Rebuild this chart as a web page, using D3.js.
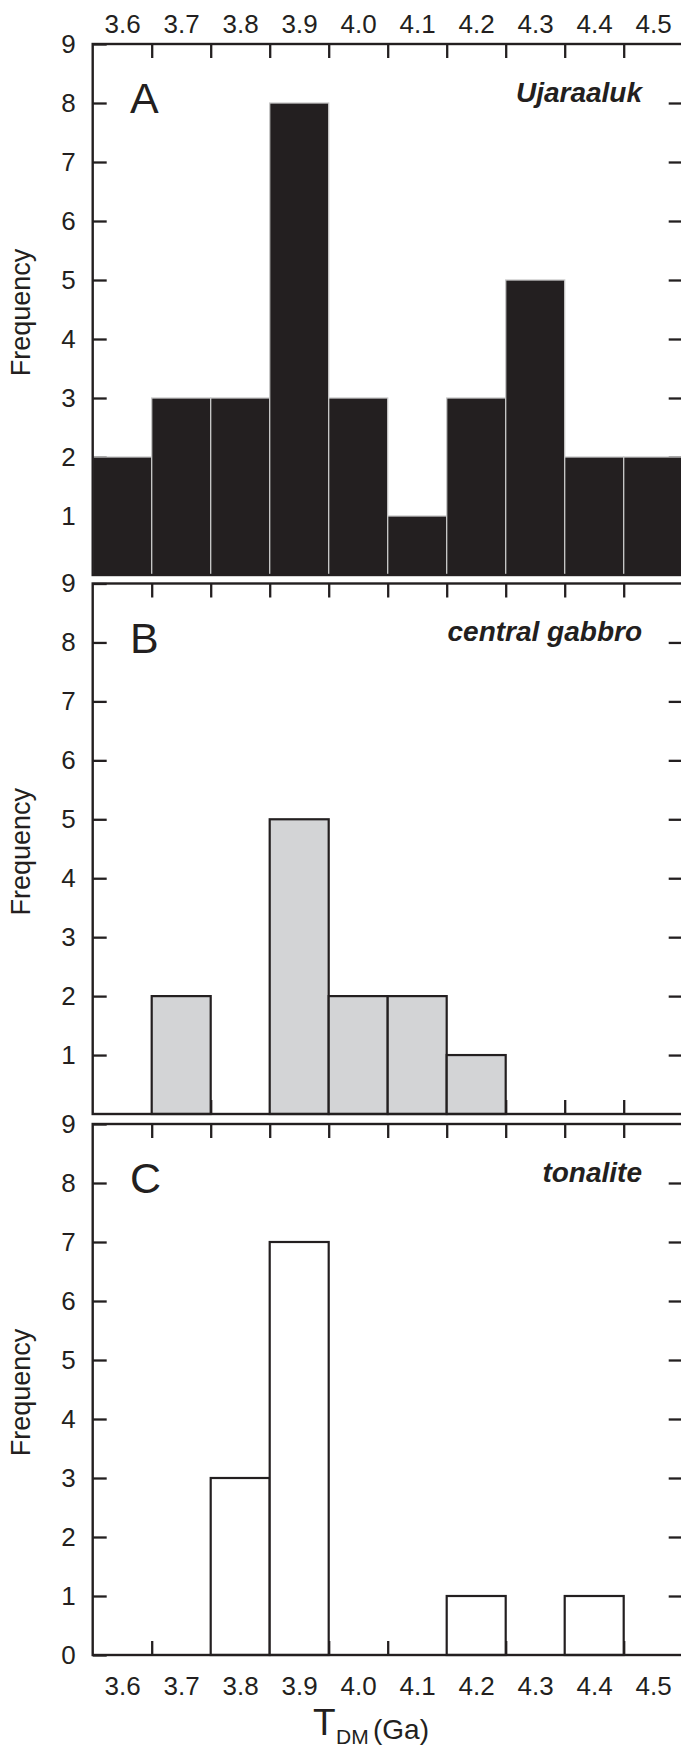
<!DOCTYPE html>
<html>
<head>
<meta charset="utf-8">
<script src="https://cdn.jsdelivr.net/npm/d3@7"></script>
<style>
  html, body { margin: 0; padding: 0; background: #fff; }
  svg { display: block; }
  text { font-family: "Liberation Sans", Arial, Helvetica, sans-serif; fill: #231f20; }
</style>
</head>
<body>
<svg id="chart" width="681" height="1747"></svg>
<script>
// ---------- data ----------
const binCenters = [3.6, 3.7, 3.8, 3.9, 4.0, 4.1, 4.2, 4.3, 4.4, 4.5];
const tickLabels = ["3.6", "3.7", "3.8", "3.9", "4.0", "4.1", "4.2", "4.3", "4.4", "4.5"];
const binEdges = [3.65, 3.75, 3.85, 3.95, 4.05, 4.15, 4.25, 4.35, 4.45];
const ujaraaluk = [2, 3, 3, 8, 3, 1, 3, 5, 2, 2];
const centralGabbro = [0, 2, 0, 5, 2, 2, 1, 0, 0, 0];
const tonalite = [0, 0, 3, 7, 0, 0, 1, 0, 1, 0];
const panelLetters = ["A", "B", "C"];
const panelNames = ["Ujaraaluk", "central gabbro", "tonalite"];
const yTicksAB = [1, 2, 3, 4, 5, 6, 7, 8, 9];
const yTicksC = [0, 1, 2, 3, 4, 5, 6, 7, 8, 9];

// ---------- layout ----------
const ink = "#231f20";
const binW = 0.1;
const x = d3.scaleLinear().domain([3.55, 4.55]).range([92.7, 682.7]);
const panels = [
  { top: 44, bottom: 575, values: ujaraaluk, fill: "#231f20", stroke: "#c8c8c8", sw: 1.3, yTicks: yTicksAB },
  { top: 583.5, bottom: 1114, values: centralGabbro, fill: "#d3d4d6", stroke: ink, sw: 2.2, yTicks: yTicksAB },
  { top: 1124, bottom: 1655, values: tonalite, fill: "#ffffff", stroke: ink, sw: 2.2, yTicks: yTicksC }
];

const svg = d3.select("#chart");
const tickLen = 14;

panels.forEach((p, i) => {
  const y = d3.scaleLinear().domain([0, 9]).range([p.bottom, p.top]);
  const g = svg.append("g");

  // axes (ticks) drawn first so that bars cover them
  const left = g.append("g").attr("transform", `translate(${x.range()[0]},0)`)
    .call(d3.axisLeft(y).tickValues(p.yTicks).tickFormat(d3.format("d"))
      .tickSizeInner(-tickLen).tickSizeOuter(0).tickPadding(17));
  const right = g.append("g").attr("transform", `translate(${x.range()[1]},0)`)
    .call(d3.axisRight(y).tickValues(yTicksC.filter(v => v > 0 && v < 9)).tickFormat("")
      .tickSizeInner(-tickLen).tickSizeOuter(0));
  const top = g.append("g").attr("transform", `translate(0,${p.top})`)
    .call(d3.axisTop(x).tickValues(binEdges).tickFormat("")
      .tickSizeInner(-tickLen).tickSizeOuter(0));
  const bottom = g.append("g").attr("transform", `translate(0,${p.bottom})`)
    .call(d3.axisBottom(x).tickValues(binEdges).tickFormat("")
      .tickSizeInner(-tickLen).tickSizeOuter(0));

  [left, right, top, bottom].forEach(a => {
    a.selectAll(".domain").remove();
    a.selectAll("line").attr("stroke", ink).attr("stroke-width", 2.3);
    a.selectAll("text").style("font-size", "26px").attr("fill", ink)
      .style("font-family", '"Liberation Sans", Arial, sans-serif');
  });

  // bars
  const data = binCenters.map((c, k) => ({ c, v: p.values[k] })).filter(d => d.v > 0);
  g.append("g").selectAll("rect").data(data).join("rect")
    .attr("x", d => x(d.c - binW / 2))
    .attr("width", d => x(d.c + binW / 2) - x(d.c - binW / 2))
    .attr("y", d => y(d.v))
    .attr("height", d => y(0) - y(d.v))
    .attr("fill", p.fill)
    .attr("stroke", p.stroke)
    .attr("stroke-width", p.sw);

  // frame
  g.append("rect")
    .attr("x", x.range()[0]).attr("y", p.top)
    .attr("width", x.range()[1] - x.range()[0]).attr("height", p.bottom - p.top)
    .attr("fill", "none").attr("stroke", ink).attr("stroke-width", 2.4);

  // panel letter
  g.append("text").attr("x", 130).attr("y", p.top + 69)
    .style("font-size", "43px").text(panelLetters[i]);

  // panel name
  g.append("text").attr("x", 642).attr("y", y(8) - 1)
    .attr("text-anchor", "end")
    .style("font-size", "28px").style("font-weight", "bold").style("font-style", "italic")
    .text(panelNames[i]);

  // y title
  g.append("text")
    .attr("transform", `translate(30,${(p.top + p.bottom) / 2 + 3}) rotate(-90)`)
    .attr("text-anchor", "middle")
    .style("font-size", "27px")
    .text("Frequency");
});

// top labels (panel A)
const topLab = svg.append("g").attr("transform", `translate(0,${panels[0].top})`)
  .call(d3.axisTop(x).tickValues(binCenters).tickFormat((d, k) => tickLabels[k])
    .tickSize(0).tickPadding(11));
// bottom labels (panel C)
const botLab = svg.append("g").attr("transform", `translate(0,${panels[2].bottom})`)
  .call(d3.axisBottom(x).tickValues(binCenters).tickFormat((d, k) => tickLabels[k])
    .tickSize(0).tickPadding(22));
[topLab, botLab].forEach(a => {
  a.selectAll(".domain").remove();
  a.selectAll("text").style("font-size", "26px").attr("fill", ink)
    .style("font-family", '"Liberation Sans", Arial, sans-serif');
});

// x title: T_DM (Ga)
svg.append("text").attr("x", 313).attr("y", 1735).style("font-size", "37px").text("T");
svg.append("text").attr("x", 336).attr("y", 1744).style("font-size", "21px").text("DM");
svg.append("text").attr("x", 373).attr("y", 1739).style("font-size", "28px").text("(Ga)");
</script>
</body>
</html>
